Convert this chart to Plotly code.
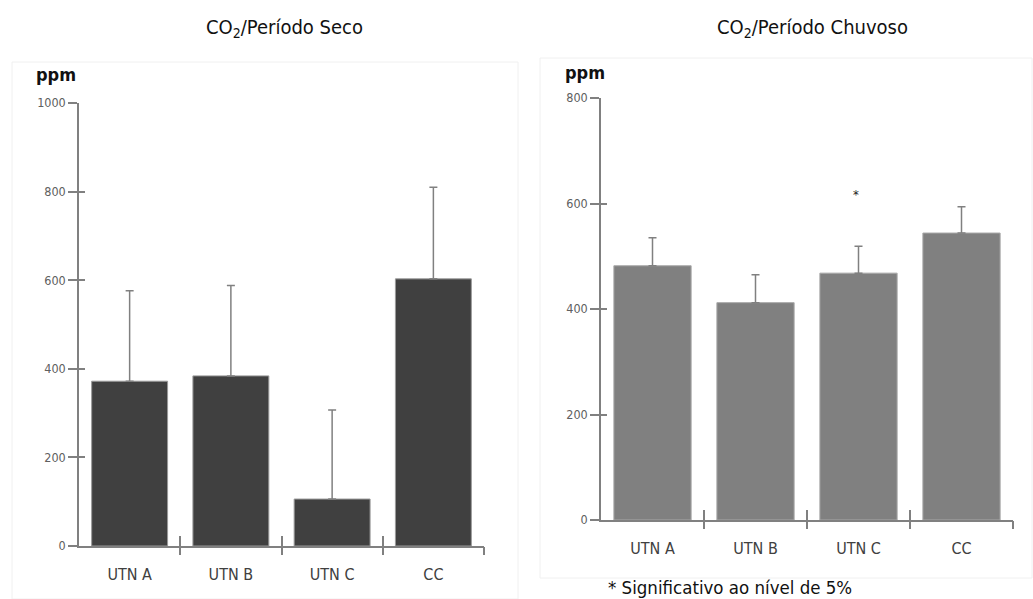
import plotly.graph_objects as go

categories = ["UTN A", "UTN B", "UTN C", "CC"]
seco_mean = [372, 384, 106, 603]
seco_sd = [204, 204, 201, 207]
chuvoso_mean = [482, 412, 468, 544]
chuvoso_sd = [53, 53, 51, 50]
significant = ["UTN C"]

W, H = 1033, 599
FONT = "Liberation Sans Narrow, DejaVu Sans Condensed, Liberation Sans, Arial, sans-serif"
AX = "#808080"

def px(x):
    return x / W

def py(y):
    return 1 - y / H

xpos = list(range(len(categories)))

fig = go.Figure()
fig.add_trace(go.Bar(
    x=xpos, y=seco_mean, width=0.75, xaxis="x", yaxis="y",
    marker=dict(color="#404040", line=dict(color="#9a9a9a", width=1)),
    error_y=dict(type="data", array=seco_sd, arrayminus=[0] * len(seco_sd), symmetric=False,
                 color=AX, thickness=1.5, width=4),
    showlegend=False))
fig.add_trace(go.Bar(
    x=xpos, y=chuvoso_mean, width=0.75, xaxis="x2", yaxis="y2",
    marker=dict(color="#808080", line=dict(color="#a8a8a8", width=1)),
    error_y=dict(type="data", array=chuvoso_sd, arrayminus=[0] * len(chuvoso_sd), symmetric=False,
                 color=AX, thickness=1.5, width=4),
    showlegend=False))

xr = [-0.5, len(categories) - 0.5]
bounds = [i + 0.5 for i in xpos]

panels = [
    dict(xd=[px(79), px(484)], yd=[py(546), py(103)], yr=[0, 1000], yt=[0, 200, 400, 600, 800, 1000]),
    dict(xd=[px(601), px(1013)], yd=[py(520), py(98)], yr=[0, 800], yt=[0, 200, 400, 600, 800]),
]

layout = dict(
    template="none",
    width=W, height=H, autosize=False, margin=dict(l=0, r=0, t=0, b=0, pad=0),
    paper_bgcolor="white", plot_bgcolor="rgba(0,0,0,0)",
    font=dict(family=FONT), bargap=0.25,
)
common = dict(automargin=False, showgrid=False, zeroline=False, fixedrange=True)
for i, p in enumerate(panels):
    n = i + 1
    xa = "x" if n == 1 else "x2"
    ya = "y" if n == 1 else "y2"
    xo = 3 + 2 * i
    yo = 4 + 2 * i
    suffix = "" if n == 1 else "2"
    layout["xaxis" + suffix] = dict(
        domain=p["xd"], anchor=ya, range=xr, tickmode="array", tickvals=xpos, ticktext=categories,
        ticks="", showline=True, linecolor=AX, linewidth=1.5,
        tickfont=dict(family=FONT, size=16, color="#404040"), ticklabelstandoff=13, **common)
    layout["yaxis" + suffix] = dict(
        domain=p["yd"], anchor=xa, range=p["yr"], tickmode="array", tickvals=p["yt"],
        ticks="outside", ticklen=9, tickwidth=1.5, tickcolor=AX,
        showline=True, linecolor=AX, linewidth=1.5,
        tickfont=dict(family=FONT, size=12.5, color="#606060"), ticklabelstandoff=0, **common)
    layout["xaxis%d" % xo] = dict(
        domain=p["xd"], anchor=ya, overlaying=xa, range=xr, tickmode="array", tickvals=bounds,
        ticks="outside", ticklen=8, tickwidth=1.5, tickcolor=AX, showticklabels=False,
        showline=False, **common)
    layout["xaxis%d" % (xo + 1)] = dict(
        domain=p["xd"], anchor=ya, overlaying=xa, range=xr, tickmode="array", tickvals=bounds,
        ticks="inside", ticklen=10, tickwidth=1.5, tickcolor=AX, showticklabels=False,
        showline=False, **common)
    layout["yaxis%d" % yo] = dict(
        domain=p["yd"], anchor=xa, overlaying=ya, range=p["yr"], tickmode="array", tickvals=p["yt"],
        ticks="inside", ticklen=6, tickwidth=1.5, tickcolor=AX, showticklabels=False,
        showline=False, **common)

fig.update_layout(**layout)

for xo, ya in [(3, "y"), (4, "y"), (5, "y2"), (6, "y2")]:
    fig.add_trace(go.Scatter(x=[None], y=[None], xaxis="x%d" % xo, yaxis=ya, showlegend=False, hoverinfo="skip"))
for yo, xa in [(4, "x"), (6, "x2")]:
    fig.add_trace(go.Scatter(x=[None], y=[None], xaxis=xa, yaxis="y%d" % yo, showlegend=False, hoverinfo="skip"))

shapes = [
    dict(type="rect", xref="paper", yref="paper", x0=px(12), x1=px(518), y0=py(599), y1=py(62),
         line=dict(color="#f0f0f0", width=1), layer="below"),
    dict(type="rect", xref="paper", yref="paper", x0=px(540), x1=px(1032), y0=py(578), y1=py(58),
         line=dict(color="#f0f0f0", width=1), layer="below"),
]
fig.update_layout(shapes=shapes)

ann = [
    dict(text="CO<sub>2</sub>/Período Seco", x=px(284), y=py(28), xref="paper", yref="paper",
         xanchor="center", yanchor="middle", showarrow=False, font=dict(family=FONT, size=20, color="#111")),
    dict(text="CO<sub>2</sub>/Período Chuvoso", x=px(812), y=py(28), xref="paper", yref="paper",
         xanchor="center", yanchor="middle", showarrow=False, font=dict(family=FONT, size=20, color="#111")),
    dict(text="<b>ppm</b>", x=px(56), y=py(75), xref="paper", yref="paper",
         xanchor="center", yanchor="middle", showarrow=False, font=dict(family=FONT, size=18, color="#111")),
    dict(text="<b>ppm</b>", x=px(585), y=py(73), xref="paper", yref="paper",
         xanchor="center", yanchor="middle", showarrow=False, font=dict(family=FONT, size=18, color="#111")),
    dict(text="* Significativo ao nível de 5%", x=px(606), y=py(587), xref="paper", yref="paper",
         xanchor="left", yanchor="middle", showarrow=False, font=dict(family=FONT, size=18.5, color="#111")),
]
for c in significant:
    i = categories.index(c)
    ann.append(dict(text="*", x=xpos[i], y=chuvoso_mean[i] + chuvoso_sd[i], xref="x2", yref="y2",
                    xshift=-3, yshift=52, showarrow=False, font=dict(family=FONT, size=13, color="#222")))
fig.update_layout(annotations=ann)

post = ("var gd=document.getElementById('{plot_id}');"
        "document.documentElement.style.margin='0';document.body.style.margin='0';"
        "document.body.style.padding='0';document.body.style.overflow='hidden';"
        "Plotly.relayout(gd,{width:1033,height:599});")
fig.write_html("out.html", config={"responsive": False, "displayModeBar": False}, post_script=post)
